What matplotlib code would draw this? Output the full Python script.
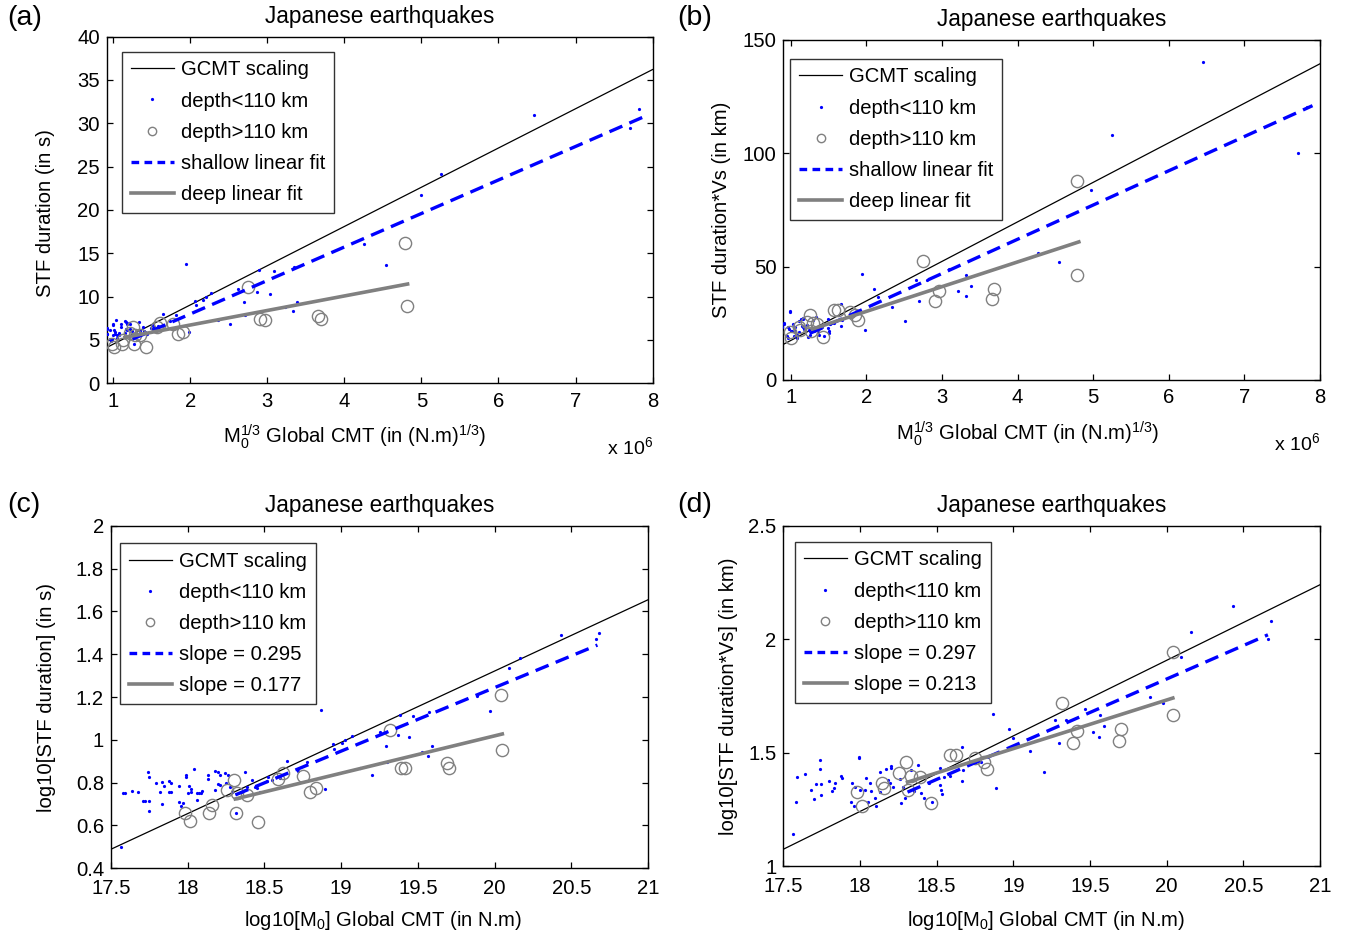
import numpy as np
import matplotlib
matplotlib.use("Agg")
import matplotlib.pyplot as plt
from matplotlib.lines import Line2D
from matplotlib.ticker import FuncFormatter

plt.rcParams["font.family"] = ["Liberation Sans", "DejaVu Sans"]
plt.rcParams["mathtext.fontset"] = "custom"
plt.rcParams["mathtext.rm"] = "Liberation Sans"
plt.rcParams["mathtext.default"] = "regular"

BLUE = "#0000ff"
GREY = "#808080"

# ---- events (c) and (d): log10(M0), log10(T) / log10(T*Vs)
shallow_c_x = [17.565, 17.58, 17.59, 17.635, 17.674, 17.71, 17.72, 17.74, 17.75, 17.745,
               17.745, 17.79, 17.82, 17.83, 17.83, 17.845, 17.88, 17.89, 17.88, 17.89,
               17.94, 17.94, 17.955, 17.97, 17.99, 17.99, 18.0, 18.01, 18.02, 18.02,
               18.04, 18.06, 18.07, 18.085, 18.06, 18.095, 18.13, 18.13, 18.18, 18.18,
               18.2, 18.21, 18.2, 18.21, 18.24, 18.26, 18.25, 18.276, 18.29, 18.315,
               18.37, 18.35, 18.385, 18.42, 18.45, 18.47, 18.515, 18.525, 18.645, 18.78,
               18.867, 18.895, 18.944, 18.95, 19.004, 19.026, 19.07, 19.12, 19.2, 19.254,
               19.29, 19.297, 19.384, 19.373, 19.445, 19.47, 19.525, 19.568, 19.59, 19.573,
               19.888, 19.97, 20.094, 20.163, 20.43, 20.68, 20.66,
               18.35, 18.44, 18.55, 18.6, 18.72]
shallow_c_y = [0.497, 0.749, 0.749, 0.76, 0.757, 0.715, 0.715, 0.848, 0.827, 0.713,
               0.668, 0.80, 0.754, 0.802, 0.70, 0.783, 0.754, 0.754, 0.807, 0.80,
               0.785, 0.707, 0.69, 0.706, 0.836, 0.828, 0.75, 0.785, 0.769, 0.757,
               0.862, 0.75, 0.75, 0.75, 0.718, 0.761, 0.835, 0.815, 0.854, 0.765,
               0.85, 0.836, 0.794, 0.79, 0.843, 0.835, 0.80, 0.78, 0.757, 0.659,
               0.85, 0.757, 0.777, 0.812, 0.773, 0.754, 0.808, 0.827, 0.90, 0.895,
               1.139, 0.768, 0.979, 0.955, 0.983, 0.999, 1.019, 0.866, 0.835, 1.038,
               0.971, 0.897, 1.116, 1.022, 1.011, 1.112, 0.944, 0.924, 0.971, 1.128,
               1.207, 1.134, 1.338, 1.382, 1.49, 1.50, 1.47,
               0.755, 0.78, 0.81, 0.82, 0.855]
deep_c_x = [17.98, 18.015, 18.14, 18.16, 18.254, 18.30, 18.315, 18.32, 18.385, 18.46,
            18.59, 18.62, 18.75, 18.797, 18.836, 19.32, 19.39, 19.417, 19.69, 19.705,
            20.047, 20.04]
deep_c_y = [0.656, 0.62, 0.659, 0.696, 0.763, 0.81, 0.659, 0.75, 0.742, 0.617,
            0.815, 0.843, 0.832, 0.757, 0.773, 1.045, 0.869, 0.866, 0.889, 0.870,
            0.952, 1.209]

shallow_d_x = [17.56, 17.58, 17.59, 17.64, 17.68, 17.70, 17.715, 17.74, 17.74, 17.745,
               17.745, 17.795, 17.82, 17.83, 17.84, 17.875, 17.885, 17.945, 17.94, 17.96,
               17.97, 17.995, 17.995, 18.0, 18.03, 18.04, 18.05, 18.067, 18.07, 18.1,
               18.106, 18.128, 18.13, 18.17, 18.18, 18.2, 18.2, 18.197, 18.215, 18.26,
               18.267, 18.28, 18.295, 18.33, 18.38, 18.40, 18.415, 18.47, 18.52, 18.52,
               18.53, 18.535, 18.59, 18.665, 18.665, 18.67, 18.867, 18.89, 18.97, 19.0,
               19.11, 19.2, 19.295, 19.27, 19.345, 19.47, 19.52, 19.56, 19.565, 19.59,
               19.89, 19.975, 20.09, 20.16, 20.43, 20.68, 20.66,
               18.35, 18.447, 18.545, 18.75, 18.79]
shallow_d_y = [1.141, 1.284, 1.394, 1.406, 1.335, 1.296, 1.36, 1.468, 1.426, 1.36,
               1.313, 1.375, 1.332, 1.342, 1.365, 1.397, 1.39, 1.365, 1.284, 1.265,
               1.35, 1.481, 1.475, 1.335, 1.335, 1.39, 1.284, 1.365, 1.33, 1.299,
               1.265, 1.413, 1.327, 1.43, 1.379, 1.44, 1.433, 1.365, 1.35, 1.386,
               1.279, 1.347, 1.299, 1.423, 1.445, 1.323, 1.299, 1.284, 1.433, 1.357,
               1.335, 1.318, 1.397, 1.524, 1.375, 1.423, 1.67, 1.343, 1.604, 1.566,
               1.509, 1.416, 1.541, 1.644, 1.644, 1.691, 1.592, 1.57, 1.666, 1.618,
               1.747, 1.718, 1.923, 2.034, 2.147, 2.08, 2.0,
               1.33, 1.365, 1.391, 1.453, 1.46]
deep_d_x = [17.98, 18.013, 18.143, 18.158, 18.256, 18.30, 18.33, 18.31, 18.39, 18.46,
            18.59, 18.628, 18.75, 18.806, 18.83, 19.32, 19.415, 19.39, 19.70, 19.69,
            20.04, 20.04]
deep_d_y = [1.325, 1.265, 1.365, 1.343, 1.409, 1.46, 1.397, 1.335, 1.391, 1.277,
            1.49, 1.49, 1.475, 1.46, 1.426, 1.72, 1.595, 1.544, 1.603, 1.553,
            1.943, 1.666]

# ---- reference / fit lines (end points) per panel
gcmt_a = ([0.914, 8.0], [4.13, 36.2])
gcmt_b = ([0.902, 8.0], [15.7, 139.5])
gcmt_c = ([17.5, 21.0], [0.488, 1.655])
gcmt_d = ([17.5, 21.0], [1.074, 2.241])
shfit_a = ([1.25, 7.9], [5.1, 30.8])
dpfit_a = ([1.15, 4.82], [5.3, 11.45])
shfit_b = ([1.25, 7.9], [20.5, 121.0])
dpfit_b = ([1.29, 4.81], [22.5, 60.9])
shfit_c = ([18.31, 20.67], [0.742, 1.443])
dpfit_c = ([18.31, 20.05], [0.723, 1.027])
shfit_d = ([18.31, 20.66], [1.326, 2.02])
dpfit_d = ([18.31, 20.04], [1.37, 1.741])

LEG_LIN = ["GCMT scaling", "depth<110 km", "depth>110 km", "shallow linear fit", "deep linear fit"]
LEG_C = ["GCMT scaling", "depth<110 km", "depth>110 km", "slope = 0.295", "slope = 0.177"]
LEG_D = ["GCMT scaling", "depth<110 km", "depth>110 km", "slope = 0.297", "slope = 0.213"]

FS = 14.6


def lin_m3(lx):
    # log10(M0) -> M0^(1/3) in units of 1e6
    return 10 ** (np.asarray(lx) / 3.0) / 1e6


def lin(ly):
    return 10 ** np.asarray(ly)


def fmt(v, pos):
    return "%g" % v


def panel(ax, pts, gcmt, shfit, dpfit, labels, xlim, ylim, xticks, yticks, legx, legy,
          xpad=6):
    sx, sy, dx, dy = pts
    ax.plot(gcmt[0], gcmt[1], color="k", lw=0.9, zorder=2)
    ax.plot(sx, sy, "o", ms=2.3, mew=0, color=BLUE, zorder=3)
    ax.plot(dx, dy, "o", ms=8.8, mfc="none", mec=GREY, mew=1.0, zorder=4)
    ax.plot(shfit[0], shfit[1], color=BLUE, lw=2.4, dashes=(4.2, 2.3), zorder=5)
    ax.plot(dpfit[0], dpfit[1], color=GREY, lw=2.6, zorder=5)
    ax.set_xlim(*xlim); ax.set_ylim(*ylim)
    ax.set_xticks(xticks); ax.set_yticks(yticks)
    ax.xaxis.set_major_formatter(FuncFormatter(fmt))
    ax.yaxis.set_major_formatter(FuncFormatter(fmt))
    ax.tick_params(direction="in", top=True, right=True, length=4.5, width=0.9,
                   labelsize=FS)
    ax.tick_params(axis="x", pad=xpad)
    ax.tick_params(axis="y", pad=5)
    for s in ax.spines.values():
        s.set_linewidth(1.0)
    handles = [
        Line2D([], [], color="k", lw=0.9),
        Line2D([], [], ls="none", marker="o", ms=2.3, mew=0, color=BLUE),
        Line2D([], [], ls="none", marker="o", ms=6, mfc="none", mec=GREY, mew=1.0),
        Line2D([], [], color=BLUE, lw=2.4, dashes=(2.3, 1.6)),
        Line2D([], [], color=GREY, lw=2.6),
    ]
    leg = ax.legend(handles, labels, loc="upper left", bbox_to_anchor=(legx, legy),
                    borderaxespad=0, fontsize=FS, frameon=True, fancybox=False,
                    handlelength=2.15, handletextpad=0.35, labelspacing=0.6,
                    borderpad=0.42)
    leg.get_frame().set_edgecolor("k")
    leg.get_frame().set_linewidth(1.0)
    ax.set_title("Japanese earthquakes", fontsize=16.3, pad=10)


fig = plt.figure(figsize=(13.51, 9.44), dpi=100)
ax_a = fig.add_axes([0.0790, 0.5940, 0.4040, 0.3672])
ax_b = fig.add_axes([0.5798, 0.5975, 0.3973, 0.3602])
ax_c = fig.add_axes([0.0822, 0.0805, 0.3975, 0.3623])
ax_d = fig.add_axes([0.5798, 0.0826, 0.3973, 0.3602])

panel(ax_a, (lin_m3(shallow_c_x), lin(shallow_c_y), lin_m3(deep_c_x), lin(deep_c_y)),
      gcmt_a, shfit_a, dpfit_a, LEG_LIN, (0.914, 8), (0, 40), range(1, 9), range(0, 41, 5),
      0.028, 0.956)
panel(ax_b, (lin_m3(shallow_d_x), lin(shallow_d_y), lin_m3(deep_d_x), lin(deep_d_y)),
      gcmt_b, shfit_b, dpfit_b, LEG_LIN, (0.902, 8), (0, 150), range(1, 9), [0, 50, 100, 150],
      0.013, 0.944)
panel(ax_c, (shallow_c_x, shallow_c_y, deep_c_x, deep_c_y),
      gcmt_c, shfit_c, dpfit_c, LEG_C, (17.5, 21), (0.4, 2),
      np.arange(17.5, 21.01, 0.5), np.arange(0.4, 2.01, 0.2), 0.017, 0.95, xpad=7.6)
panel(ax_d, (shallow_d_x, shallow_d_y, deep_d_x, deep_d_y),
      gcmt_d, shfit_d, dpfit_d, LEG_D, (17.5, 21), (1, 2.5),
      np.arange(17.5, 21.01, 0.5), [1, 1.5, 2, 2.5], 0.022, 0.953, xpad=7.6)

xl_lin = r"M$_0^{1/3}$ Global CMT (in (N.m)$^{1/3}$)"
xl_log = r"log10[M$_0$] Global CMT (in N.m)"
ax_a.set_xlabel(xl_lin, fontsize=FS); ax_a.xaxis.set_label_coords(0.455, -0.112)
ax_b.set_xlabel(xl_lin, fontsize=FS); ax_b.xaxis.set_label_coords(0.456, -0.115)
ax_c.set_xlabel(xl_log, fontsize=FS); ax_c.xaxis.set_label_coords(0.507, -0.12)
ax_d.set_xlabel(xl_log, fontsize=FS); ax_d.xaxis.set_label_coords(0.49, -0.125)
ax_a.set_ylabel("STF duration (in s)", fontsize=FS); ax_a.yaxis.set_label_coords(-0.094, 0.49)
ax_b.set_ylabel("STF duration*Vs (in km)", fontsize=FS); ax_b.yaxis.set_label_coords(-0.098, 0.5)
ax_c.set_ylabel("log10[STF duration] (in s)", fontsize=FS); ax_c.yaxis.set_label_coords(-0.103, 0.5)
ax_d.set_ylabel("log10[STF duration*Vs] (in km)", fontsize=FS); ax_d.yaxis.set_label_coords(-0.085, 0.5)

for ax in (ax_a, ax_b):
    ax.text(1.0, -0.185, r"x 10$^6$", transform=ax.transAxes, ha="right", va="center",
            fontsize=FS - 0.6)

for lab, x, y in [("(a)", 0.005, 0.981), ("(b)", 0.501, 0.981),
                  ("(c)", 0.005, 0.465), ("(d)", 0.501, 0.465)]:
    fig.text(x, y, lab, fontsize=20.5, ha="left", va="center")

fig.savefig("out.png", dpi=100)
